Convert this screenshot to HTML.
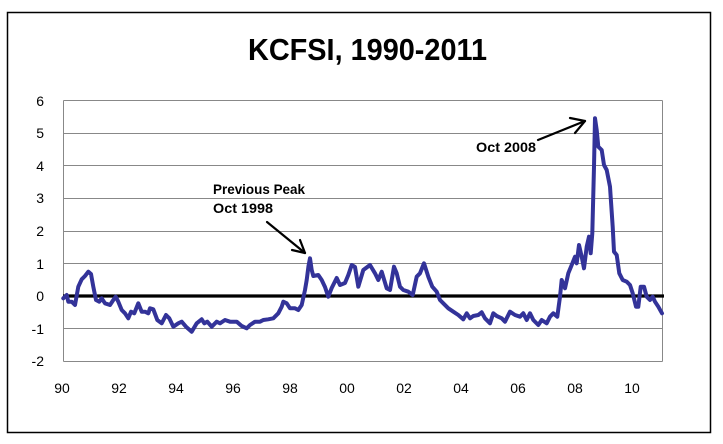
<!DOCTYPE html>
<html>
<head>
<meta charset="utf-8">
<style>
html,body{margin:0;padding:0;background:#fff;}
svg{display:block;}
text{font-family:"Liberation Sans",Arial,sans-serif;fill:#000;}
</style>
</head>
<body>
<svg width="723" height="444" viewBox="0 0 723 444" xmlns="http://www.w3.org/2000/svg">
<rect x="0" y="0" width="723" height="444" fill="#fff"/>
<rect x="7.5" y="12.5" width="703" height="420" fill="#fff" stroke="#000" stroke-width="1.5"/>
<text x="248" y="60" font-size="31" font-weight="bold" textLength="239" lengthAdjust="spacingAndGlyphs">KCFSI, 1990-2011</text>
<!-- grid -->
<g stroke="#888" stroke-width="1">
<line x1="63.5" y1="100.5" x2="662.5" y2="100.5"/>
<line x1="63.5" y1="133.5" x2="662.5" y2="133.5"/>
<line x1="63.5" y1="165.5" x2="662.5" y2="165.5"/>
<line x1="63.5" y1="198.5" x2="662.5" y2="198.5"/>
<line x1="63.5" y1="231.5" x2="662.5" y2="231.5"/>
<line x1="63.5" y1="263.5" x2="662.5" y2="263.5"/>
<line x1="63.5" y1="328.5" x2="662.5" y2="328.5"/>
<line x1="63.5" y1="361.5" x2="662.5" y2="361.5"/>
<line x1="63.5" y1="100.5" x2="63.5" y2="361.5"/>
<line x1="662.5" y1="100.5" x2="662.5" y2="361.5"/>
</g>
<line x1="63" y1="296" x2="664" y2="296" stroke="#000" stroke-width="3.2"/>
<!-- y labels -->
<g font-size="14" text-anchor="end">
<text x="44" y="106">6</text>
<text x="44" y="138">5</text>
<text x="44" y="171">4</text>
<text x="44" y="203">3</text>
<text x="44" y="236">2</text>
<text x="44" y="269">1</text>
<text x="44" y="301">0</text>
<text x="44" y="334">-1</text>
<text x="44" y="366">-2</text>
</g>
<!-- x labels -->
<g font-size="14" text-anchor="middle">
<text x="62" y="393">90</text>
<text x="119" y="393">92</text>
<text x="176" y="393">94</text>
<text x="233" y="393">96</text>
<text x="290" y="393">98</text>
<text x="347" y="393">00</text>
<text x="404" y="393">02</text>
<text x="461" y="393">04</text>
<text x="518" y="393">06</text>
<text x="575" y="393">08</text>
<text x="632" y="393">10</text>
</g>
<!-- series -->
<polyline fill="none" stroke="#333399" stroke-width="4" stroke-linejoin="round" stroke-linecap="round"
points="63.3,298.3 66.7,295 68.3,301.7 71.7,301.7 75,305 78.3,286.7 81.7,279.3 85,276 88.3,271.7 91,274 93.3,286.7 96,300 99.3,301.7 101.7,298.3 105,303.3 110,305 113.3,300 115.7,296.7 118.3,301.7 121.7,310 125,313.3 128.3,318.3 131,311.7 134.3,313.3 138.3,303.3 141.7,311.7 145,311.7 148.3,313.3 150,308.3 153.3,309.3 157.3,320 161.7,323.3 166,315 169.3,318.3 173.3,326.7 178.3,323.3 181.7,321.7 186,326.7 191.7,331.7 196.7,323.3 201.7,319.3 204.3,323.3 207.3,321.7 211.7,326.7 216.7,321.7 220,323.3 225,320 230,321.7 236.7,321.7 241.7,326 246.7,328.3 250,325 255,321.7 260,321.7 263.3,320 268.3,319.3 273.3,318.3 278.3,313.3 281.7,306.7 283.3,301.7 286.7,303.3 290,308.3 295,308.3 298.3,310 301.7,305 305,290 306.7,280 308.5,266 310,258.3 311.7,270 313.3,276 318.3,275 321.7,280 325,287 328.3,296.7 331.7,288 336.7,278 340,285 345,283 348.3,275 351.7,265 355,267 358.3,286.7 363.3,270 370,265 375,273.3 378.3,280 381.7,271.7 386.7,288.3 390,290 394,266.7 396.7,273.3 400,286.7 403.3,290 408.3,291.7 412.7,295 416.7,276.7 420,273.3 424,263.3 428.3,276.7 432.3,286.7 436.7,291.7 440,300 443.3,303.3 448.3,308.3 453.3,311.7 458.3,315 463.3,319.3 466.7,313.3 470,318.3 473.3,316 478.3,315 481.7,312.3 485,318.3 490,323.3 493.3,313.3 496.7,316 501.7,318.3 505,321.7 510,311.7 515,315 520,316.7 523.3,313.3 526.7,320 530,313.3 533.3,320 538.3,325 541.7,320 546.7,323.3 550,316.7 553.3,313.3 557.3,316.7 560,296.7 561.7,280 565,288.3 568.3,273.3 571.7,265 575,256.7 576.7,263.3 579,245 581.7,256.7 584,268.3 586.7,246.7 589,236.7 590.7,253.3 592.3,233.3 594,166.7 595,118.3 596.7,130 598.3,146.7 601.7,150 604,165 606.7,170 610,186.7 612.7,226.7 614,251.7 616.7,255 619.3,273.3 622.7,280 626.7,281.7 630,285 632.7,293.3 636,306.7 638.3,306.7 640.7,286.7 644,286.7 646.7,296.7 650,300 652.7,296.7 655,301.7 658.3,306.7 662,313.3"/>
<!-- annotations -->
<text x="213" y="194" font-size="14" font-weight="bold" textLength="92" lengthAdjust="spacingAndGlyphs">Previous Peak</text>
<text x="213" y="213" font-size="14" font-weight="bold" textLength="60" lengthAdjust="spacingAndGlyphs">Oct 1998</text>
<text x="476" y="152" font-size="14" font-weight="bold" textLength="60" lengthAdjust="spacingAndGlyphs">Oct 2008</text>
<g stroke="#000" stroke-width="2.2" fill="none" stroke-linecap="round" stroke-linejoin="round">
<line x1="267" y1="222" x2="305" y2="253"/>
<polyline points="292,250 305,253 300,240"/>
<line x1="538" y1="140" x2="585" y2="121"/>
<polyline points="570,118 585,121 575,133"/>
</g>
</svg>
</body>
</html>
